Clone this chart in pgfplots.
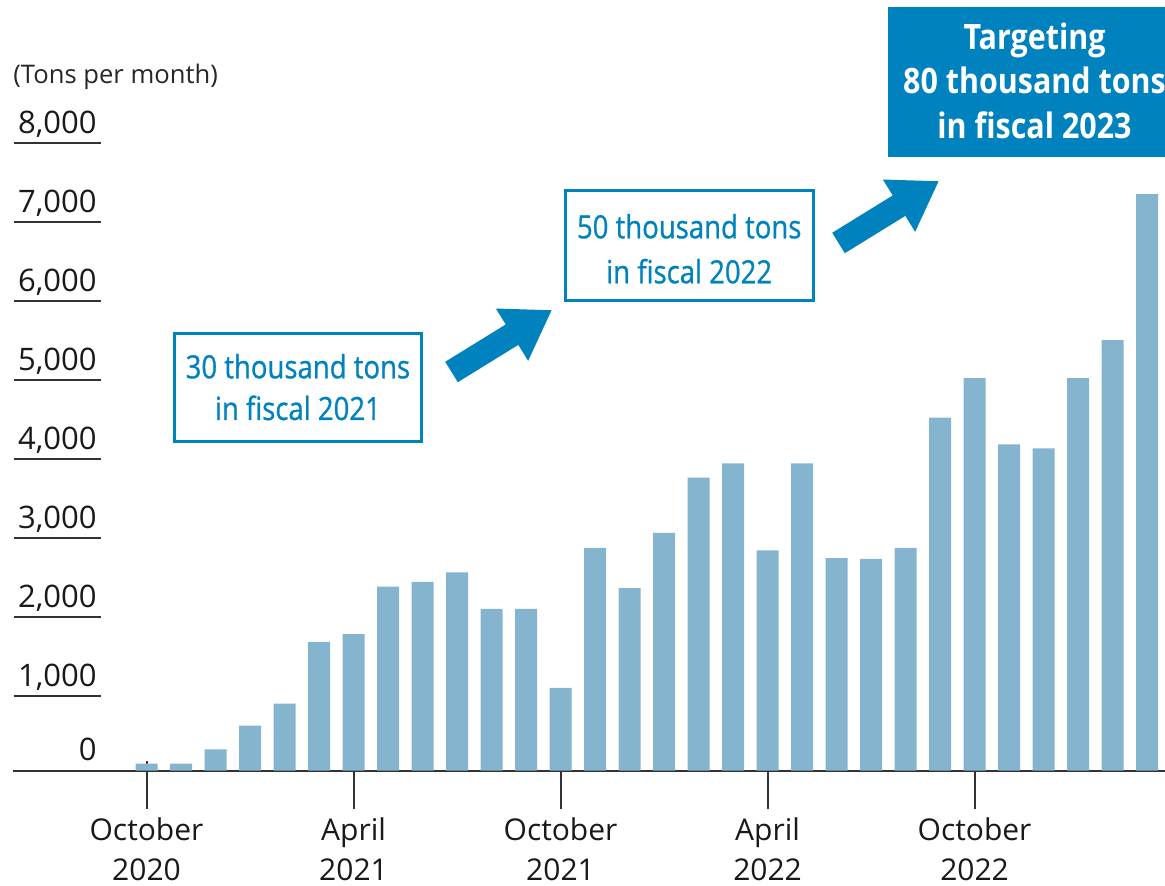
\documentclass[border=0pt]{standalone}
\usepackage{pgfplots}
\pgfplotsset{compat=1.18}
\usepackage{fontspec}
\setmainfont{Open Sans}
\newfontfamily\boxfont[FakeStretch=0.86,FakeBold=0.8]{Open Sans}
\newfontfamily\targetfont[FakeStretch=0.87]{Open Sans}
\usetikzlibrary{arrows.meta}
\definecolor{barblue}{RGB}{132,180,206}
\definecolor{mainblue}{RGB}{0,130,190}
\definecolor{axisgray}{RGB}{50,50,50}
\newcommand\ul[1]{\makebox[43.5pt][r]{#1\hspace{2pt}}\llap{\textcolor{axisgray}{\rule[-5.3pt]{43.5pt}{1pt}}}}
\begin{document}
\begin{tikzpicture}
\begin{axis}[
  at={(6.5pt,-385.35pt)}, anchor=south west,
  width=576pt, height=316pt, scale only axis,
  xmin=-3.87, xmax=29.52, ymin=0, ymax=8000,
  axis x line=bottom, axis y line=left,
  axis line style={-},
  x axis line style={draw=axisgray, line width=1pt},
  y axis line style={draw=none},
  tick align=inside, major tick length=24pt,
  xtick={0,6,12,18,24},
  xticklabels={{October\\2020},{April\\2021},{October\\2021},{April\\2022},{October\\2022}},
  x tick label style={font=\fontsize{15}{19.6}\selectfont, align=center, anchor=north, inner sep=0pt, yshift=-23.5pt, text=black!90},
  xtick style={draw=axisgray, line width=1pt, yshift=-19pt},
  ytick={0,1000,2000,3000,4000,5000,6000,7000,8000},
  yticklabels={{\raisebox{2.5pt}{\makebox[43.5pt][r]{0\hspace{2pt}}}},{\ul{1,000}},{\ul{2,000}},{\ul{3,000}},{\ul{4,000}},{\ul{5,000}},{\ul{6,000}},{\ul{7,000}},{\ul{8,000}}},
  y tick label style={font=\fontsize{15.5}{18}\selectfont, anchor=base east, inner sep=0pt, xshift=44pt, yshift=2.5pt, text=black!90},
  ytick style={draw=none},
  clip=false,
]
\addplot[ybar, bar width=11pt, fill=barblue, draw=none] coordinates {
(0,90) (1,90) (2,270) (3,570) (4,850) (5,1630) (6,1730) (7,2330) (8,2390) (9,2510)
(10,2050) (11,2050) (12,1050) (13,2820) (14,2310) (15,3010) (16,3710) (17,3890) (18,2790) (19,3890)
(20,2690) (21,2680) (22,2820) (23,4470) (24,4970) (25,4130) (26,4080) (27,4970) (28,5450) (29,7300)
};
\end{axis}
\begin{scope}[x=0.5pt,y=-0.5pt]
\node[anchor=base west, inner sep=0pt, font=\fontsize{12.8}{15}\selectfont, text=black!85] at (13,83.3) {(Tons per month)};
% box 1
\draw[mainblue, line width=1.5pt] (174,333.3) rectangle (421.7,441.7);
\node[anchor=base, inner sep=0pt, text=mainblue, font=\boxfont\fontsize{16}{20}\selectfont] at (297.9,378.3) {30 thousand tons};
\node[anchor=base, inner sep=0pt, text=mainblue, font=\boxfont\fontsize{16}{20}\selectfont] at (297.9,420) {in fiscal 2021};
% box 2
\draw[mainblue, line width=1.5pt] (565,190.7) rectangle (813.3,300.7);
\node[anchor=base, inner sep=0pt, text=mainblue, font=\boxfont\fontsize{16}{20}\selectfont] at (689.2,238.3) {50 thousand tons};
\node[anchor=base, inner sep=0pt, text=mainblue, font=\boxfont\fontsize{16}{20}\selectfont] at (689.2,283.3) {in fiscal 2022};
% box 3
\fill[mainblue] (888.3,7.3) rectangle (1200,156.7);
\node[anchor=base, inner sep=0pt, text=white, font=\targetfont\bfseries\fontsize{17.5}{21}\selectfont] at (1034.5,50) {Targeting};
\node[anchor=base, inner sep=0pt, text=white, font=\targetfont\bfseries\fontsize{17.5}{21}\selectfont] at (1034.5,93.3) {80 thousand tons};
\node[anchor=base, inner sep=0pt, text=white, font=\targetfont\bfseries\fontsize{17.5}{21}\selectfont] at (1034.5,138.3) {in fiscal 2023};
% arrows
\draw[mainblue, line width=12pt, -{Triangle[length=23.5pt, width=29pt]}] (451.5,372) -- (552,310);
\draw[mainblue, line width=12pt, -{Triangle[length=23.5pt, width=29pt]}] (838.5,243) -- (939,181);
\end{scope}
\pgfresetboundingbox
\path[use as bounding box] (0,0) rectangle (582.5pt,-443pt);
\end{tikzpicture}
\end{document}
